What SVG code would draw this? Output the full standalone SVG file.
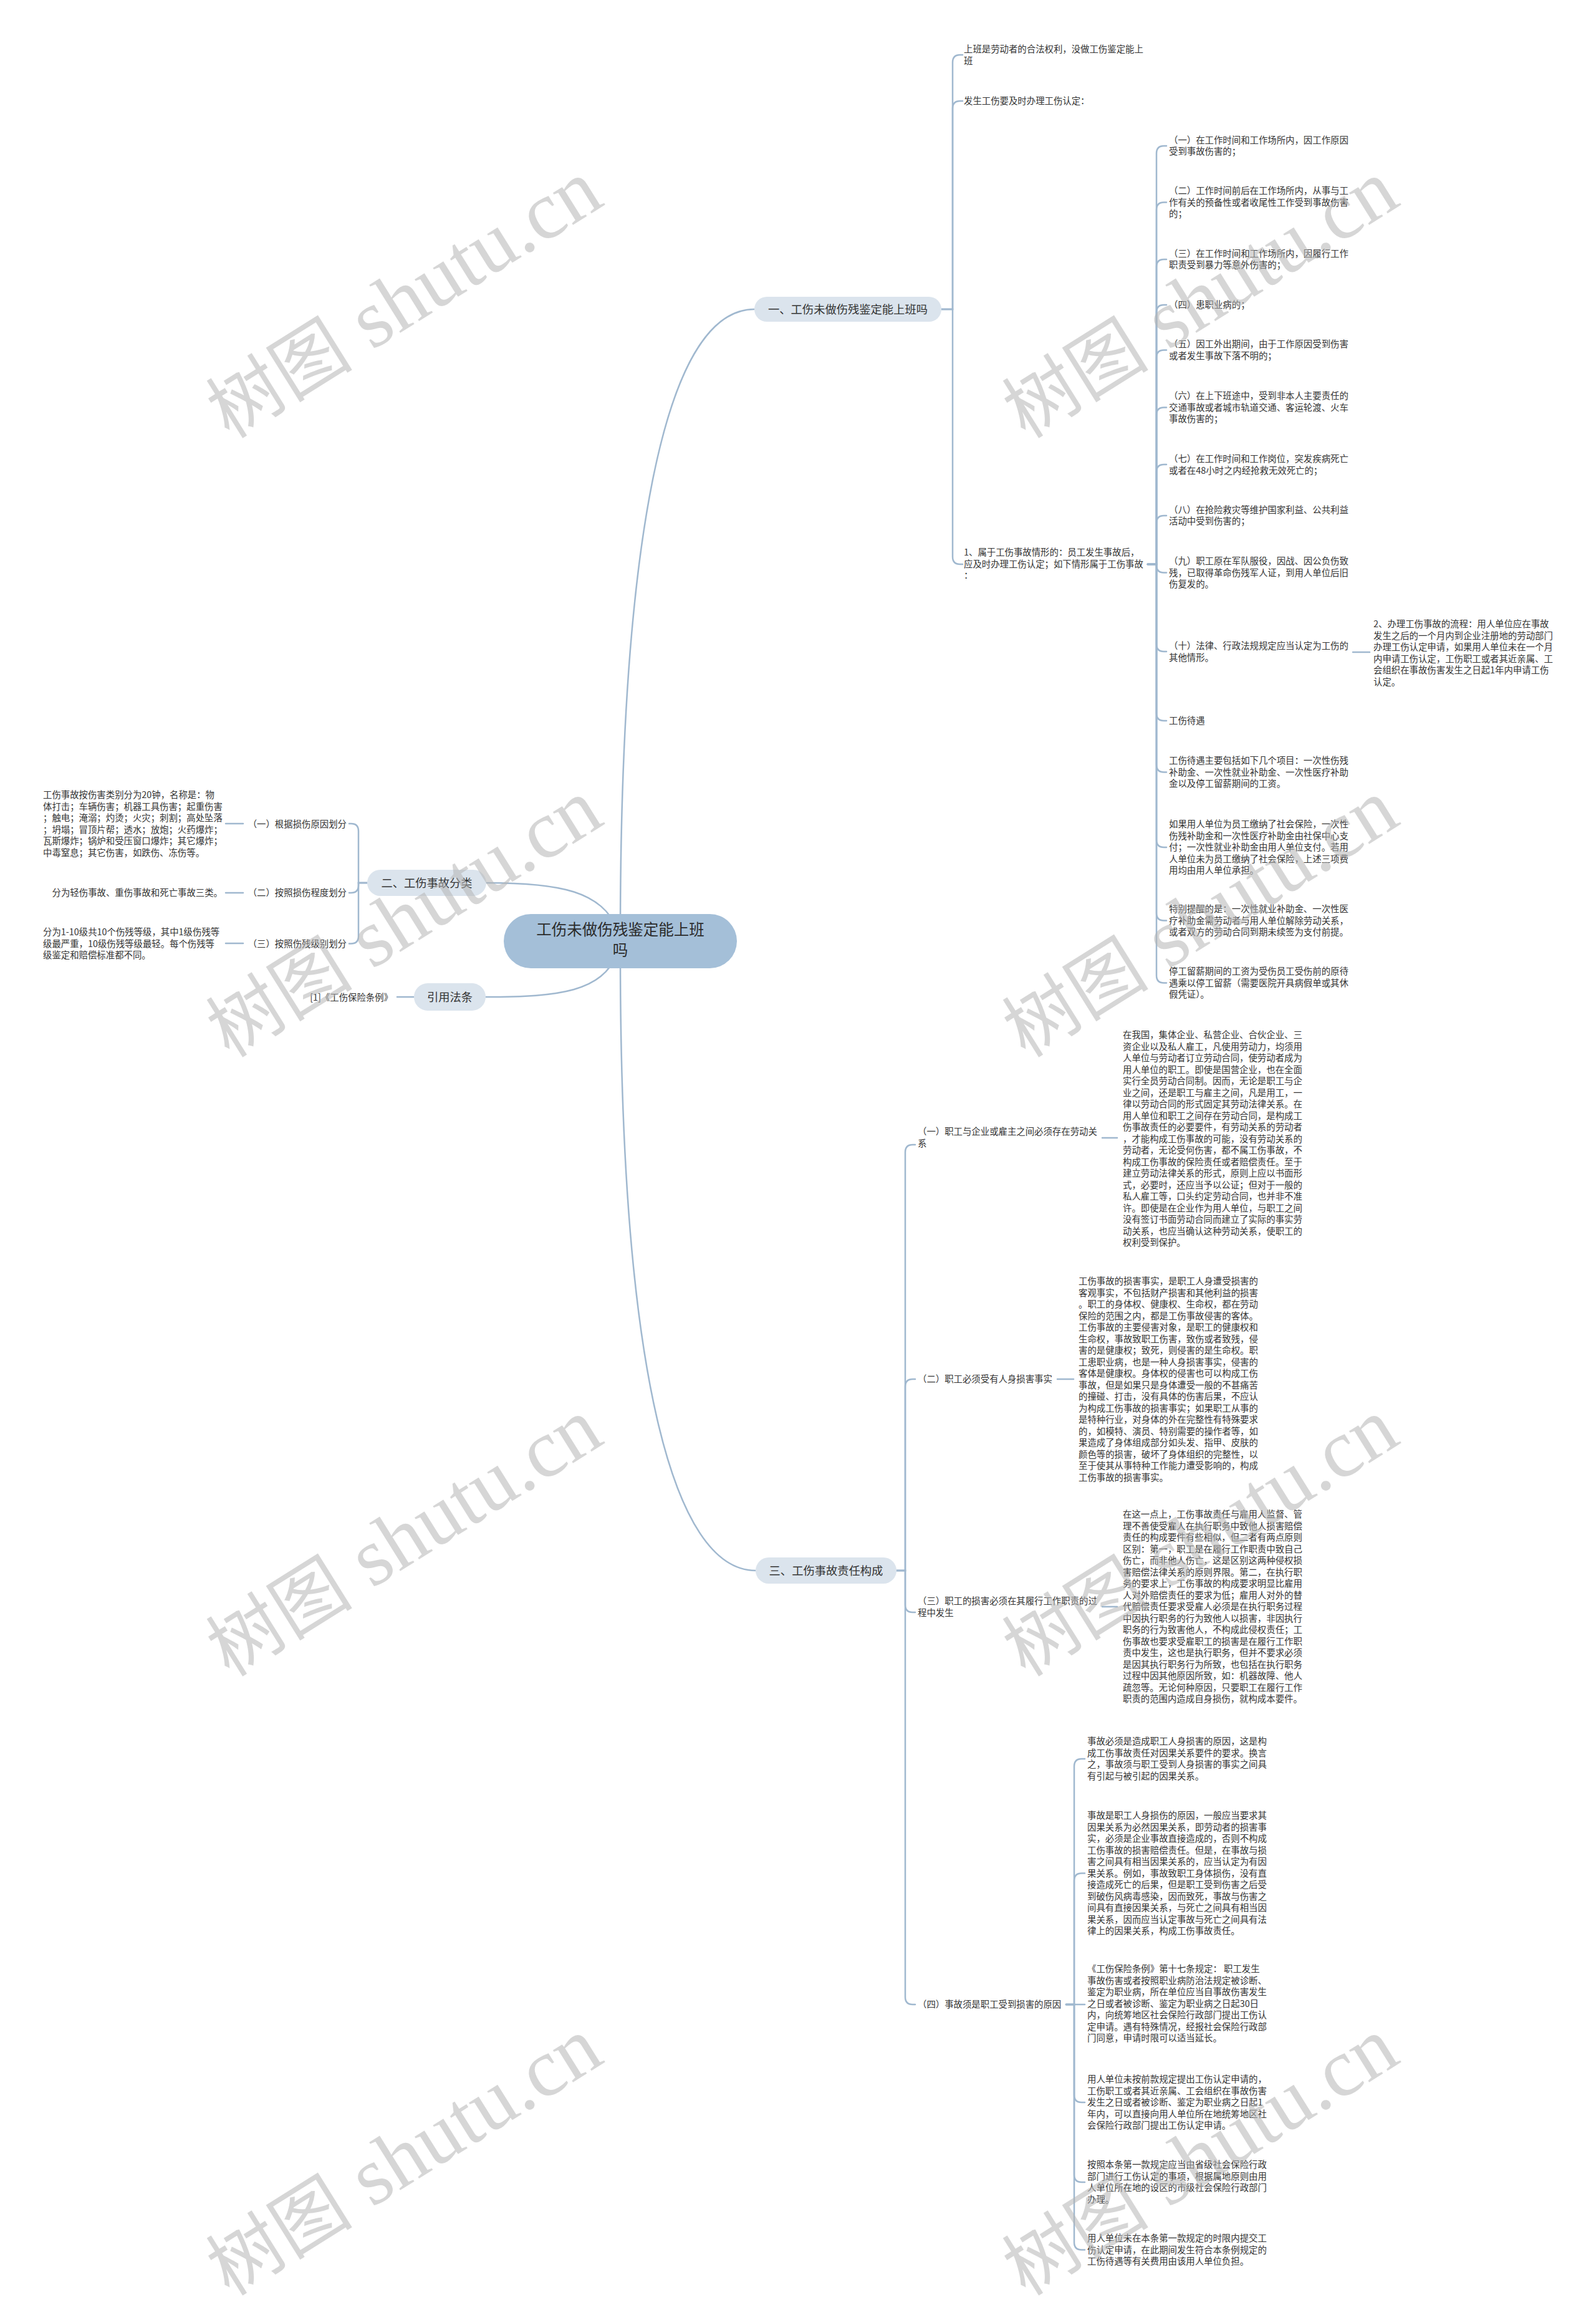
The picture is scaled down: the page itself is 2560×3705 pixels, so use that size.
<svg xmlns="http://www.w3.org/2000/svg" width="2560" height="3705" viewBox="0 0 2560 3705">
<style>
.t{font-family:"Noto Sans CJK SC","Noto Sans",sans-serif;font-size:14.4px;fill:#333}
.b{font-family:"Noto Sans CJK SC","Noto Sans",sans-serif;font-size:18.3px;fill:#333;text-anchor:middle}
.c{font-family:"Noto Sans CJK SC","Noto Sans",sans-serif;font-size:24.5px;fill:#2b2b2b;text-anchor:middle}
.e{text-anchor:end}
.ln{fill:none;stroke:#a0b8cf;stroke-width:2.5;stroke-linecap:round}
.bn{fill:#dbe4ed}
.cn{fill:#a4bfd8}
.wm{font-family:"Liberation Serif","Noto Sans CJK SC",serif;fill:#b4b4b4;fill-opacity:0.55}
</style>
<rect width="2560" height="3705" fill="#ffffff"/>
<g id="connectors">
<path class="ln" d="M995 1500C995 900 1060 496 1210 496"/>
<path class="ln" d="M990 1490C965 1430 900 1416 780 1416"/>
<path class="ln" d="M990 1530C965 1590 900 1599 779 1599"/>
<path class="ln" d="M995 1530C995 2200 1080 2519 1212 2519"/>
<path class="ln" d="M1510 496H1528V100Q1528 88 1540 88H1544"/>
<path class="ln" d="M1510 496H1528V174Q1528 162 1540 162H1544"/>
<path class="ln" d="M1510 496H1528V893Q1528 905 1540 905H1544"/>
<path class="ln" d="M1841 905H1855V246Q1855 234 1867 234H1871"/>
<path class="ln" d="M1841 905H1855V336.5Q1855 324.5 1867 324.5H1871"/>
<path class="ln" d="M1841 905H1855V428Q1855 416 1867 416H1871"/>
<path class="ln" d="M1841 905H1855V501Q1855 489 1867 489H1871"/>
<path class="ln" d="M1841 905H1855V573.5Q1855 561.5 1867 561.5H1871"/>
<path class="ln" d="M1841 905H1855V665.5Q1855 653.5 1867 653.5H1871"/>
<path class="ln" d="M1841 905H1855V757Q1855 745 1867 745H1871"/>
<path class="ln" d="M1841 905H1855V839Q1855 827 1867 827H1871"/>
<path class="ln" d="M1841 905H1855V906.5Q1855 918.5 1867 918.5H1871"/>
<path class="ln" d="M1841 905H1855V1033Q1855 1045 1867 1045H1871"/>
<path class="ln" d="M1841 905H1855V1144Q1855 1156 1867 1156H1871"/>
<path class="ln" d="M1841 905H1855V1226.5Q1855 1238.5 1867 1238.5H1871"/>
<path class="ln" d="M1841 905H1855V1347Q1855 1359 1867 1359H1871"/>
<path class="ln" d="M1841 905H1855V1464.5Q1855 1476.5 1867 1476.5H1871"/>
<path class="ln" d="M1841 905H1855V1564.5Q1855 1576.5 1867 1576.5H1871"/>
<path class="ln" d="M2170 1046H2197"/>
<path class="ln" d="M589 1416H575V1333Q575 1321 563 1321H560"/>
<path class="ln" d="M589 1416H575V1420Q575 1432 563 1432H560"/>
<path class="ln" d="M589 1416H575V1501.5Q575 1513.5 563 1513.5H560"/>
<path class="ln" d="M362 1321H390"/>
<path class="ln" d="M362 1432H390"/>
<path class="ln" d="M362 1513H390"/>
<path class="ln" d="M637 1599H664"/>
<path class="ln" d="M1438 2519H1452V1848Q1452 1836 1464 1836H1468"/>
<path class="ln" d="M1438 2519H1452V2224Q1452 2212 1464 2212H1468"/>
<path class="ln" d="M1438 2519H1452V2574Q1452 2586 1464 2586H1468"/>
<path class="ln" d="M1438 2519H1452V3203Q1452 3215 1464 3215H1468"/>
<path class="ln" d="M1768 1825H1792"/>
<path class="ln" d="M1696 2212H1722"/>
<path class="ln" d="M1768 2577H1792"/>
<path class="ln" d="M1710 3215H1723V2833Q1723 2821 1735 2821H1740"/>
<path class="ln" d="M1710 3215H1723V3016.5Q1723 3004.5 1735 3004.5H1740"/>
<path class="ln" d="M1710 3215H1740"/>
<path class="ln" d="M1710 3215H1723V3360Q1723 3372 1735 3372H1740"/>
<path class="ln" d="M1710 3215H1723V3488Q1723 3500 1735 3500H1740"/>
<path class="ln" d="M1710 3215H1723V3596.5Q1723 3608.5 1735 3608.5H1740"/>
</g>
<g id="n-root"><rect class="cn" x="808" y="1466" width="374" height="87" rx="43.5"/><text class="c"><tspan x="995" y="1500">工伤未做伤残鉴定能上班</tspan><tspan x="995" y="1533">吗</tspan></text></g>
<g id="n-b1"><rect class="bn" x="1210" y="476" width="300" height="40" rx="20"/><text class="b" x="1360" y="503">一、工伤未做伤残鉴定能上班吗</text></g>
<g id="n-b2"><rect class="bn" x="589" y="1395" width="191" height="42" rx="21"/><text class="b" x="684.5" y="1423">二、工伤事故分类</text></g>
<g id="n-b4"><rect class="bn" x="664" y="1577" width="115" height="44" rx="22"/><text class="b" x="721.5" y="1606">引用法条</text></g>
<g id="n-b3"><rect class="bn" x="1212" y="2498" width="226" height="42" rx="21"/><text class="b" x="1325" y="2526">三、工伤事故责任构成</text></g>
<g id="n-1a"><text class="t"><tspan x="1546" y="84">上班是劳动者的合法权利，没做工伤鉴定能上</tspan><tspan x="1546" y="102.5">班</tspan></text></g>
<g id="n-1b"><text class="t" x="1546" y="167">发生工伤要及时办理工伤认定：</text></g>
<g id="n-1c"><text class="t"><tspan x="1546" y="891">1、属于工伤事故情形的：员工发生事故后，</tspan><tspan x="1546" y="909.5">应及时办理工伤认定；如下情形属于工伤事故</tspan><tspan x="1546" y="928">：</tspan></text></g>
<g id="n-1c1"><text class="t"><tspan x="1875" y="229.5">（一）在工作时间和工作场所内，因工作原因</tspan><tspan x="1875" y="248">受到事故伤害的；</tspan></text></g>
<g id="n-1c2"><text class="t"><tspan x="1875" y="311">（二）工作时间前后在工作场所内，从事与工</tspan><tspan x="1875" y="329.5">作有关的预备性或者收尾性工作受到事故伤害</tspan><tspan x="1875" y="348">的；</tspan></text></g>
<g id="n-1c3"><text class="t"><tspan x="1875" y="411.5">（三）在工作时间和工作场所内，因履行工作</tspan><tspan x="1875" y="430">职责受到暴力等意外伤害的；</tspan></text></g>
<g id="n-1c4"><text class="t" x="1875" y="494">（四）患职业病的；</text></g>
<g id="n-1c5"><text class="t"><tspan x="1875" y="557">（五）因工外出期间，由于工作原因受到伤害</tspan><tspan x="1875" y="575.5">或者发生事故下落不明的；</tspan></text></g>
<g id="n-1c6"><text class="t"><tspan x="1875" y="640">（六）在上下班途中，受到非本人主要责任的</tspan><tspan x="1875" y="658.5">交通事故或者城市轨道交通、客运轮渡、火车</tspan><tspan x="1875" y="677">事故伤害的；</tspan></text></g>
<g id="n-1c7"><text class="t"><tspan x="1875" y="741">（七）在工作时间和工作岗位，突发疾病死亡</tspan><tspan x="1875" y="759.5">或者在48小时之内经抢救无效死亡的；</tspan></text></g>
<g id="n-1c8"><text class="t"><tspan x="1875" y="822.5">（八）在抢险救灾等维护国家利益、公共利益</tspan><tspan x="1875" y="841">活动中受到伤害的；</tspan></text></g>
<g id="n-1c9"><text class="t"><tspan x="1875" y="905">（九）职工原在军队服役，因战、因公负伤致</tspan><tspan x="1875" y="923.5">残，已取得革命伤残军人证，到用人单位后旧</tspan><tspan x="1875" y="942">伤复发的。</tspan></text></g>
<g id="n-1c10"><text class="t"><tspan x="1875" y="1041">（十）法律、行政法规规定应当认定为工伤的</tspan><tspan x="1875" y="1059.5">其他情形。</tspan></text></g>
<g id="n-1c10a"><text class="t"><tspan x="2203" y="1006">2、办理工伤事故的流程：用人单位应在事故</tspan><tspan x="2203" y="1024.5">发生之后的一个月内到企业注册地的劳动部门</tspan><tspan x="2203" y="1043">办理工伤认定申请，如果用人单位未在一个月</tspan><tspan x="2203" y="1061.5">内申请工伤认定，工伤职工或者其近亲属、工</tspan><tspan x="2203" y="1080">会组织在事故伤害发生之日起1年内申请工伤</tspan><tspan x="2203" y="1098.5">认定。</tspan></text></g>
<g id="n-1c11"><text class="t" x="1875" y="1161">工伤待遇</text></g>
<g id="n-1c12"><text class="t"><tspan x="1875" y="1225">工伤待遇主要包括如下几个项目：一次性伤残</tspan><tspan x="1875" y="1243.5">补助金、一次性就业补助金、一次性医疗补助</tspan><tspan x="1875" y="1262">金以及停工留薪期间的工资。</tspan></text></g>
<g id="n-1c13"><text class="t"><tspan x="1875" y="1327">如果用人单位为员工缴纳了社会保险，一次性</tspan><tspan x="1875" y="1345.5">伤残补助金和一次性医疗补助金由社保中心支</tspan><tspan x="1875" y="1364">付；一次性就业补助金由用人单位支付。若用</tspan><tspan x="1875" y="1382.5">人单位未为员工缴纳了社会保险，上述三项费</tspan><tspan x="1875" y="1401">用均由用人单位承担。</tspan></text></g>
<g id="n-1c14"><text class="t"><tspan x="1875" y="1463">特别提醒的是：一次性就业补助金、一次性医</tspan><tspan x="1875" y="1481.5">疗补助金需劳动者与用人单位解除劳动关系，</tspan><tspan x="1875" y="1500">或者双方的劳动合同到期未续签为支付前提。</tspan></text></g>
<g id="n-1c15"><text class="t"><tspan x="1875" y="1563">停工留薪期间的工资为受伤员工受伤前的原待</tspan><tspan x="1875" y="1581.5">遇乘以停工留薪（需要医院开具病假单或其休</tspan><tspan x="1875" y="1600">假凭证）。</tspan></text></g>
<g id="n-2a"><text class="t e" x="556" y="1327">（一）根据损伤原因划分</text></g>
<g id="n-2a1"><text class="t"><tspan x="69" y="1280">工伤事故按伤害类别分为20钟，名称是：物</tspan><tspan x="69" y="1298.5">体打击；车辆伤害；机器工具伤害；起重伤害</tspan><tspan x="69" y="1317">；触电；淹溺；灼烫；火灾；刺割；高处坠落</tspan><tspan x="69" y="1335.5">；坍塌；冒顶片帮；透水；放炮；火药爆炸；</tspan><tspan x="69" y="1354">瓦斯爆炸；锅炉和受压窗口爆炸；其它爆炸；</tspan><tspan x="69" y="1372.5">中毒窒息；其它伤害，如跌伤、冻伤等。</tspan></text></g>
<g id="n-2b"><text class="t e" x="556" y="1437">（二）按照损伤程度划分</text></g>
<g id="n-2b1"><text class="t e" x="357" y="1437">分为轻伤事故、重伤事故和死亡事故三类。</text></g>
<g id="n-2c"><text class="t e" x="556" y="1518.5">（三）按照伤残级别划分</text></g>
<g id="n-2c1"><text class="t"><tspan x="69" y="1500">分为1-10级共10个伤残等级，其中1级伤残等</tspan><tspan x="69" y="1518.5">级最严重，10级伤残等级最轻。每个伤残等</tspan><tspan x="69" y="1537">级鉴定和赔偿标准都不同。</tspan></text></g>
<g id="n-4a"><text class="t e" x="630" y="1605">[1]《工伤保险条例》</text></g>
<g id="n-3a"><text class="t"><tspan x="1472" y="1820">（一）职工与企业或雇主之间必须存在劳动关</tspan><tspan x="1472" y="1838.5">系</tspan></text></g>
<g id="n-3a1"><text class="t"><tspan x="1801" y="1665">在我国，集体企业、私营企业、合伙企业、三</tspan><tspan x="1801" y="1683.5">资企业以及私人雇工，凡使用劳动力，均须用</tspan><tspan x="1801" y="1702">人单位与劳动者订立劳动合同，使劳动者成为</tspan><tspan x="1801" y="1720.5">用人单位的职工。即使是国营企业，也在全面</tspan><tspan x="1801" y="1739">实行全员劳动合同制。因而，无论是职工与企</tspan><tspan x="1801" y="1757.5">业之间，还是职工与雇主之间，凡是用工，一</tspan><tspan x="1801" y="1776">律以劳动合同的形式固定其劳动法律关系。在</tspan><tspan x="1801" y="1794.5">用人单位和职工之间存在劳动合同，是构成工</tspan><tspan x="1801" y="1813">伤事故责任的必要要件，有劳动关系的劳动者</tspan><tspan x="1801" y="1831.5">，才能构成工伤事故的可能，没有劳动关系的</tspan><tspan x="1801" y="1850">劳动者，无论受何伤害，都不属工伤事故，不</tspan><tspan x="1801" y="1868.5">构成工伤事故的保险责任或者赔偿责任。至于</tspan><tspan x="1801" y="1887">建立劳动法律关系的形式，原则上应以书面形</tspan><tspan x="1801" y="1905.5">式，必要时，还应当予以公证；但对于一般的</tspan><tspan x="1801" y="1924">私人雇工等，口头约定劳动合同，也并非不准</tspan><tspan x="1801" y="1942.5">许。即使是在企业作为用人单位，与职工之间</tspan><tspan x="1801" y="1961">没有签订书面劳动合同而建立了实际的事实劳</tspan><tspan x="1801" y="1979.5">动关系，也应当确认这种劳动关系，使职工的</tspan><tspan x="1801" y="1998">权利受到保护。</tspan></text></g>
<g id="n-3b"><text class="t" x="1472" y="2217">（二）职工必须受有人身损害事实</text></g>
<g id="n-3b1"><text class="t"><tspan x="1730" y="2060">工伤事故的损害事实，是职工人身遭受损害的</tspan><tspan x="1730" y="2078.5">客观事实，不包括财产损害和其他利益的损害</tspan><tspan x="1730" y="2097">。职工的身体权、健康权、生命权，都在劳动</tspan><tspan x="1730" y="2115.5">保险的范围之内，都是工伤事故侵害的客体。</tspan><tspan x="1730" y="2134">工伤事故的主要侵害对象，是职工的健康权和</tspan><tspan x="1730" y="2152.5">生命权，事故致职工伤害，致伤或者致残，侵</tspan><tspan x="1730" y="2171">害的是健康权；致死，则侵害的是生命权。职</tspan><tspan x="1730" y="2189.5">工患职业病，也是一种人身损害事实，侵害的</tspan><tspan x="1730" y="2208">客体是健康权。身体权的侵害也可以构成工伤</tspan><tspan x="1730" y="2226.5">事故，但是如果只是身体遭受一般的不甚痛苦</tspan><tspan x="1730" y="2245">的撞碰、打击，没有具体的伤害后果，不应认</tspan><tspan x="1730" y="2263.5">为构成工伤事故的损害事实；如果职工从事的</tspan><tspan x="1730" y="2282">是特种行业，对身体的外在完整性有特殊要求</tspan><tspan x="1730" y="2300.5">的，如模特、演员、特别需要的操作者等，如</tspan><tspan x="1730" y="2319">果造成了身体组成部分如头发、指甲、皮肤的</tspan><tspan x="1730" y="2337.5">颜色等的损害，破坏了身体组织的完整性，以</tspan><tspan x="1730" y="2356">至于使其从事特种工作能力遭受影响的，构成</tspan><tspan x="1730" y="2374.5">工伤事故的损害事实。</tspan></text></g>
<g id="n-3c"><text class="t"><tspan x="1472" y="2573">（三）职工的损害必须在其履行工作职责的过</tspan><tspan x="1472" y="2591.5">程中发生</tspan></text></g>
<g id="n-3c1"><text class="t"><tspan x="1801" y="2434">在这一点上，工伤事故责任与雇用人监督、管</tspan><tspan x="1801" y="2452.5">理不善使受雇人在执行职务中致他人损害赔偿</tspan><tspan x="1801" y="2471">责任的构成要件有些相似，但二者有两点原则</tspan><tspan x="1801" y="2489.5">区别：第一，职工是在履行工作职责中致自己</tspan><tspan x="1801" y="2508">伤亡，而非他人伤亡，这是区别这两种侵权损</tspan><tspan x="1801" y="2526.5">害赔偿法律关系的原则界限。第二，在执行职</tspan><tspan x="1801" y="2545">务的要求上，工伤事故的构成要求明显比雇用</tspan><tspan x="1801" y="2563.5">人对外赔偿责任的要求为低；雇用人对外的替</tspan><tspan x="1801" y="2582">代赔偿责任要求受雇人必须是在执行职务过程</tspan><tspan x="1801" y="2600.5">中因执行职务的行为致他人以损害，非因执行</tspan><tspan x="1801" y="2619">职务的行为致害他人，不构成此侵权责任；工</tspan><tspan x="1801" y="2637.5">伤事故也要求受雇职工的损害是在履行工作职</tspan><tspan x="1801" y="2656">责中发生，这也是执行职务，但并不要求必须</tspan><tspan x="1801" y="2674.5">是因其执行职务行为所致，也包括在执行职务</tspan><tspan x="1801" y="2693">过程中因其他原因所致，如：机器故障、他人</tspan><tspan x="1801" y="2711.5">疏忽等。无论何种原因，只要职工在履行工作</tspan><tspan x="1801" y="2730">职责的范围内造成自身损伤，就构成本要件。</tspan></text></g>
<g id="n-3d"><text class="t" x="1472" y="3220">（四）事故须是职工受到损害的原因</text></g>
<g id="n-3d1"><text class="t"><tspan x="1744" y="2798">事故必须是造成职工人身损害的原因，这是构</tspan><tspan x="1744" y="2816.5">成工伤事故责任对因果关系要件的要求。换言</tspan><tspan x="1744" y="2835">之，事故须与职工受到人身损害的事实之间具</tspan><tspan x="1744" y="2853.5">有引起与被引起的因果关系。</tspan></text></g>
<g id="n-3d2"><text class="t"><tspan x="1744" y="2917">事故是职工人身损伤的原因，一般应当要求其</tspan><tspan x="1744" y="2935.5">因果关系为必然因果关系，即劳动者的损害事</tspan><tspan x="1744" y="2954">实，必须是企业事故直接造成的，否则不构成</tspan><tspan x="1744" y="2972.5">工伤事故的损害赔偿责任。但是，在事故与损</tspan><tspan x="1744" y="2991">害之间具有相当因果关系的，应当认定为有因</tspan><tspan x="1744" y="3009.5">果关系。例如，事故致职工身体损伤，没有直</tspan><tspan x="1744" y="3028">接造成死亡的后果，但是职工受到伤害之后受</tspan><tspan x="1744" y="3046.5">到破伤风病毒感染，因而致死，事故与伤害之</tspan><tspan x="1744" y="3065">间具有直接因果关系，与死亡之间具有相当因</tspan><tspan x="1744" y="3083.5">果关系，因而应当认定事故与死亡之间具有法</tspan><tspan x="1744" y="3102">律上的因果关系，构成工伤事故责任。</tspan></text></g>
<g id="n-3d3"><text class="t"><tspan x="1744" y="3163">《工伤保险条例》第十七条规定： 职工发生</tspan><tspan x="1744" y="3181.5">事故伤害或者按照职业病防治法规定被诊断、</tspan><tspan x="1744" y="3200">鉴定为职业病，所在单位应当自事故伤害发生</tspan><tspan x="1744" y="3218.5">之日或者被诊断、鉴定为职业病之日起30日</tspan><tspan x="1744" y="3237">内，向统筹地区社会保险行政部门提出工伤认</tspan><tspan x="1744" y="3255.5">定申请。遇有特殊情况，经报社会保险行政部</tspan><tspan x="1744" y="3274">门同意，申请时限可以适当延长。</tspan></text></g>
<g id="n-3d4"><text class="t"><tspan x="1744" y="3340">用人单位未按前款规定提出工伤认定申请的，</tspan><tspan x="1744" y="3358.5">工伤职工或者其近亲属、工会组织在事故伤害</tspan><tspan x="1744" y="3377">发生之日或者被诊断、鉴定为职业病之日起1</tspan><tspan x="1744" y="3395.5">年内，可以直接向用人单位所在地统筹地区社</tspan><tspan x="1744" y="3414">会保险行政部门提出工伤认定申请。</tspan></text></g>
<g id="n-3d5"><text class="t"><tspan x="1744" y="3477">按照本条第一款规定应当由省级社会保险行政</tspan><tspan x="1744" y="3495.5">部门进行工伤认定的事项，根据属地原则由用</tspan><tspan x="1744" y="3514">人单位所在地的设区的市级社会保险行政部门</tspan><tspan x="1744" y="3532.5">办理。</tspan></text></g>
<g id="n-3d6"><text class="t"><tspan x="1744" y="3595">用人单位未在本条第一款规定的时限内提交工</tspan><tspan x="1744" y="3613.5">伤认定申请，在此期间发生符合本条例规定的</tspan><tspan x="1744" y="3632">工伤待遇等有关费用由该用人单位负担。</tspan></text></g>
<g id="watermarks" class="wm">
<text transform="translate(368 705) rotate(-32)"><tspan font-size="118">树图</tspan><tspan font-size="132"> shutu.cn</tspan></text>
<text transform="translate(1645 705) rotate(-32)"><tspan font-size="118">树图</tspan><tspan font-size="132"> shutu.cn</tspan></text>
<text transform="translate(368 1698) rotate(-32)"><tspan font-size="118">树图</tspan><tspan font-size="132"> shutu.cn</tspan></text>
<text transform="translate(1645 1698) rotate(-32)"><tspan font-size="118">树图</tspan><tspan font-size="132"> shutu.cn</tspan></text>
<text transform="translate(368 2691) rotate(-32)"><tspan font-size="118">树图</tspan><tspan font-size="132"> shutu.cn</tspan></text>
<text transform="translate(1645 2691) rotate(-32)"><tspan font-size="118">树图</tspan><tspan font-size="132"> shutu.cn</tspan></text>
<text transform="translate(368 3684) rotate(-32)"><tspan font-size="118">树图</tspan><tspan font-size="132"> shutu.cn</tspan></text>
<text transform="translate(1645 3684) rotate(-32)"><tspan font-size="118">树图</tspan><tspan font-size="132"> shutu.cn</tspan></text>
</g>
</svg>
